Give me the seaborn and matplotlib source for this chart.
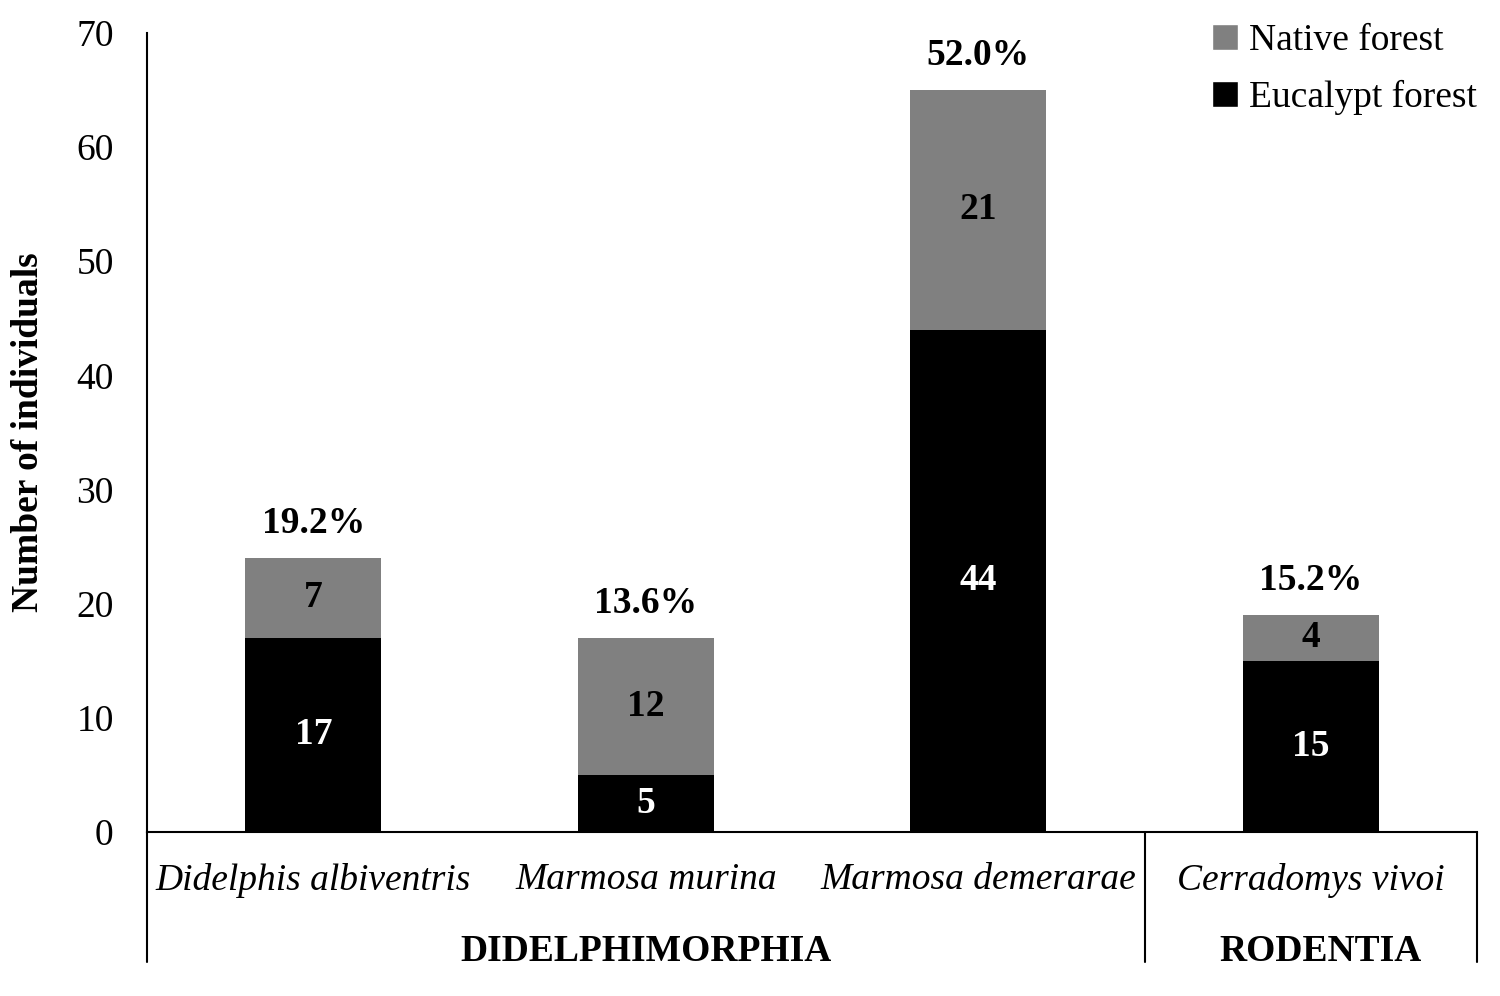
import numpy as np
import pandas as pd
import seaborn as sns
import matplotlib.pyplot as plt
import matplotlib.transforms as mtransforms
from matplotlib.patches import Patch

# data
species = ["Didelphis albiventris", "Marmosa murina", "Marmosa demerarae", "Cerradomys vivoi"]
eucalypt = [17, 5, 44, 15]
native = [7, 12, 21, 4]
orders = ["DIDELPHIMORPHIA", "RODENTIA"]
order_span = [(0, 2), (3, 3)]
yticks = [0, 10, 20, 30, 40, 50, 60, 70]

df = pd.DataFrame({"species": species, "eucalypt": eucalypt, "native": native})
df["total"] = df["eucalypt"] + df["native"]
df["pct"] = df["total"] / df["total"].sum() * 100

sns.set_theme(style="white")
plt.rcParams["font.family"] = ["Liberation Serif", "DejaVu Serif"]
plt.rcParams["text.color"] = "black"
plt.rcParams["axes.labelcolor"] = "black"
plt.rcParams["xtick.color"] = "black"
plt.rcParams["ytick.color"] = "black"

fs = 27

fig = plt.figure(figsize=(15, 9.96), dpi=100)
ax = fig.add_axes([0.098, 0.1647, 0.8867, 0.8023])

gray = "#808080"
# stacked: full height in gray, eucalypt part in black on top
sns.barplot(data=df, x="species", y="total", color=gray, width=0.41,
            saturation=1, linewidth=0, ax=ax)
sns.barplot(data=df, x="species", y="eucalypt", color="black", width=0.41,
            saturation=1, linewidth=0, ax=ax)

ax.set_xlim(-0.5, 3.5)
ax.set_ylim(0, 70)
ax.set_yticks(yticks)
ax.tick_params(axis="y", length=0, pad=24, labelsize=fs)
ax.tick_params(axis="x", length=0, pad=22, labelsize=fs)
for lab in ax.get_xticklabels():
    lab.set_fontstyle("italic")
ax.set_xlabel("")
ax.set_ylabel("Number of individuals", fontsize=fs, fontweight="bold", labelpad=22)

for s in ["top", "right"]:
    ax.spines[s].set_visible(False)
for s in ["left", "bottom"]:
    ax.spines[s].set_color("black")
    ax.spines[s].set_linewidth(1.5)

# value labels
for i, row in df.iterrows():
    ax.text(i, row["eucalypt"] / 2, str(row["eucalypt"]), ha="center", va="center",
            color="white", fontsize=fs, fontweight="bold")
    ax.text(i, row["eucalypt"] + row["native"] / 2, str(row["native"]), ha="center",
            va="center", color="black", fontsize=fs, fontweight="bold")
    ax.text(i, row["total"] + 3.0, f"{row['pct']:.1f}%", ha="center", va="center",
            color="black", fontsize=fs, fontweight="bold")

# order grouping below the axis
trans = mtransforms.blended_transform_factory(ax.transData, ax.transAxes)
for x in [-0.5, 2.5, 3.5]:
    ax.plot([x, x], [0, -0.163], transform=trans, color="black", lw=1.5, clip_on=False)
for name, (a, b) in zip(orders, order_span):
    ax.text((a + b) / 2 + (0.03 if a == b else 0), -0.149, name, transform=trans,
            ha="center", va="center", fontsize=fs, fontweight="bold")

handles = [Patch(facecolor=gray, label="Native forest"),
           Patch(facecolor="black", label="Eucalypt forest")]
ax.legend(handles=handles, loc="upper right", bbox_to_anchor=(1.0, 1.012),
          frameon=False, fontsize=fs, handlelength=0.7, handleheight=0.7,
          handletextpad=0.3, labelspacing=0.6, borderaxespad=0, borderpad=0)

fig.savefig("out.png", dpi=100)
